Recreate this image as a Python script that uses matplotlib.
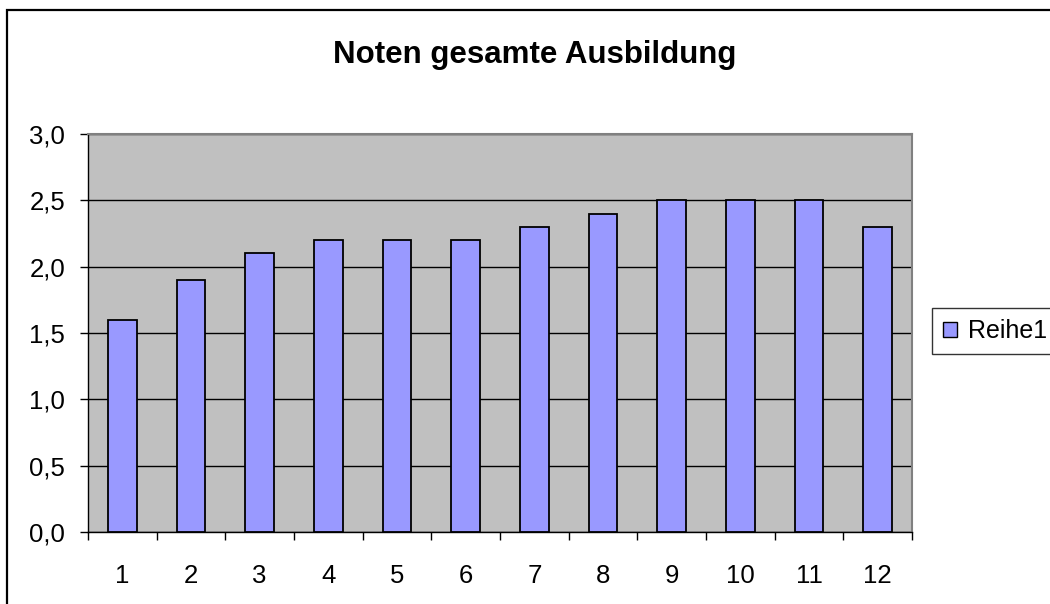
import matplotlib
matplotlib.use("Agg")
import matplotlib.pyplot as plt
from matplotlib.patches import Rectangle, Patch
from matplotlib.ticker import FixedLocator, FuncFormatter

categories = ["1", "2", "3", "4", "5", "6", "7", "8", "9", "10", "11", "12"]
values = [1.6, 1.9, 2.1, 2.2, 2.2, 2.2, 2.3, 2.4, 2.5, 2.5, 2.5, 2.3]
series_name = "Reihe1"
title = "Noten gesamte Ausbildung"

plt.rcParams['font.family'] = ['Liberation Sans', 'DejaVu Sans']

fig = plt.figure(figsize=(10.5, 6.04), dpi=100)
ax = fig.add_axes([88/1050, 1-532/604, 824/1050, 398/604])
ax.set_facecolor('#C0C0C0')

x = list(range(1, len(categories) + 1))
ax.bar(x, values, width=0.42, color='#9999FF', edgecolor='black', linewidth=1.3, zorder=3)

ax.set_xlim(0.5, len(categories) + 0.5)
ax.set_ylim(0, 3.0)
ax.set_yticks([0, 0.5, 1.0, 1.5, 2.0, 2.5, 3.0])
ax.yaxis.set_major_formatter(FuncFormatter(lambda v, p: f"{v:.1f}".replace('.', ',')))
ax.grid(axis='y', color='black', linewidth=1.0, zorder=1)
ax.set_axisbelow(True)

ax.xaxis.set_major_locator(FixedLocator([i + 0.5 for i in range(0, len(categories) + 1)]))
ax.xaxis.set_major_formatter(FuncFormatter(lambda v, p: ""))
ax.xaxis.set_minor_locator(FixedLocator(x))
ax.set_xticklabels(categories, minor=True)
ax.tick_params(axis='x', which='major', direction='out', length=5.5, width=1, color='black')
ax.tick_params(axis='x', which='minor', length=0, pad=23, labelsize=18.5)
ax.tick_params(axis='y', direction='out', length=5.5, width=1, pad=11, labelsize=18.5)

for s in ['left', 'bottom']:
    ax.spines[s].set_color('black')
    ax.spines[s].set_linewidth(1.0)
for s in ['top', 'right']:
    ax.spines[s].set_color('#808080')
    ax.spines[s].set_linewidth(1.5)

fig.text(535/1050, 1-55/604, title, ha='center', va='center', fontsize=22.5, fontweight='bold')

handle = Patch(facecolor='#9999FF', edgecolor='black', linewidth=1.0)
leg = fig.legend([handle], [series_name], loc='center left', bbox_to_anchor=(932/1050, 1-331/604),
                 fontsize=18, frameon=True, fancybox=False, edgecolor='black',
                 handlelength=0.55, handleheight=0.55, handletextpad=0.45, borderpad=0.45,
                 borderaxespad=0)
leg.get_frame().set_linewidth(1.0)

fig.patches.append(Rectangle((7/1050, -0.1), 1.2, 1.1 - 10/604, transform=fig.transFigure,
                             fill=False, edgecolor='black', linewidth=1.6, clip_on=False))

fig.savefig('out.png', dpi=100)
